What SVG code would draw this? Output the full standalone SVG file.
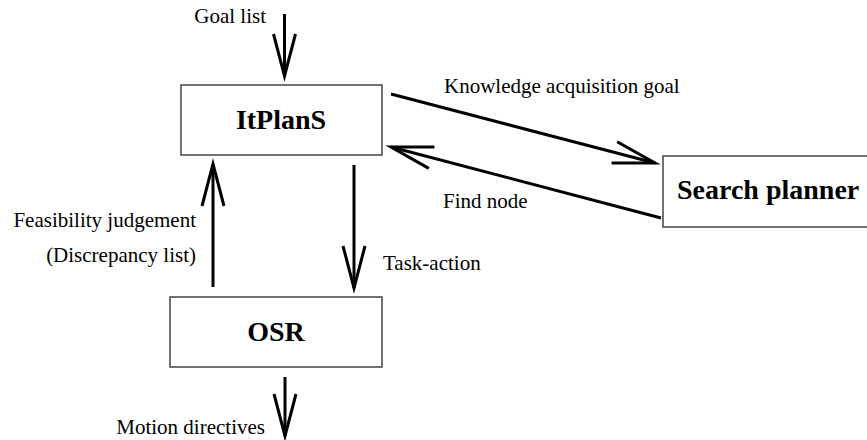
<svg xmlns="http://www.w3.org/2000/svg" width="867" height="440" viewBox="0 0 867 440">
  <style>
    .box { fill: #fff; stroke: #444; stroke-width: 1.5; }
    .title { font-family: "Liberation Serif", "Times New Roman", serif; font-size: 28px; font-weight: bold; fill: #000; }
    .label { font-family: "Liberation Serif", "Times New Roman", serif; font-size: 21px; fill: #000; }
    .edge { fill: none; stroke: #000; stroke-width: 3; marker-end: url(#vhead); }
  </style>
  <defs>
    <!-- open V arrowhead, drawn in user units so all heads share one size -->
    <marker id="vhead" markerUnits="userSpaceOnUse" orient="auto" overflow="visible" markerWidth="1" markerHeight="1" refX="0" refY="0">
      <path d="M-42,-11 L0,0 L-42,11" fill="none" stroke="#000" stroke-width="3"/>
    </marker>
  </defs>

  <rect width="867" height="440" fill="#fff"/>

  <g id="itplans">
    <rect class="box" x="181" y="85" width="201" height="70"/>
    <text class="title" x="281" y="129" text-anchor="middle">ItPlanS</text>
  </g>

  <g id="search-planner">
    <rect class="box" x="663" y="156" width="220" height="71"/>
    <text class="title" x="677" y="199">Search planner</text>
  </g>

  <g id="osr">
    <rect class="box" x="170" y="297" width="212" height="70"/>
    <text class="title" x="276" y="341" text-anchor="middle">OSR</text>
  </g>

  <g id="connectors">
    <line class="edge" x1="284.5" y1="14" x2="284.5" y2="76"/>
    <line class="edge" x1="391" y1="94" x2="655" y2="163"/>
    <line class="edge" x1="661" y1="218" x2="391" y2="147"/>
    <line class="edge" x1="213" y1="287" x2="213" y2="164"/>
    <line class="edge" x1="354" y1="165" x2="354" y2="288"/>
    <line class="edge" x1="285" y1="377" x2="285" y2="436"/>
  </g>

  <g id="labels">
    <text class="label" x="266" y="23" text-anchor="end">Goal list</text>
    <text class="label" x="444" y="93">Knowledge acquisition goal</text>
    <text class="label" x="443" y="208">Find node</text>
    <text class="label" x="196" y="227" text-anchor="end">Feasibility judgement</text>
    <text class="label" x="196" y="262" text-anchor="end">(Discrepancy list)</text>
    <text class="label" x="383" y="270">Task-action</text>
    <text class="label" x="265" y="434" text-anchor="end">Motion directives</text>
  </g>
</svg>
